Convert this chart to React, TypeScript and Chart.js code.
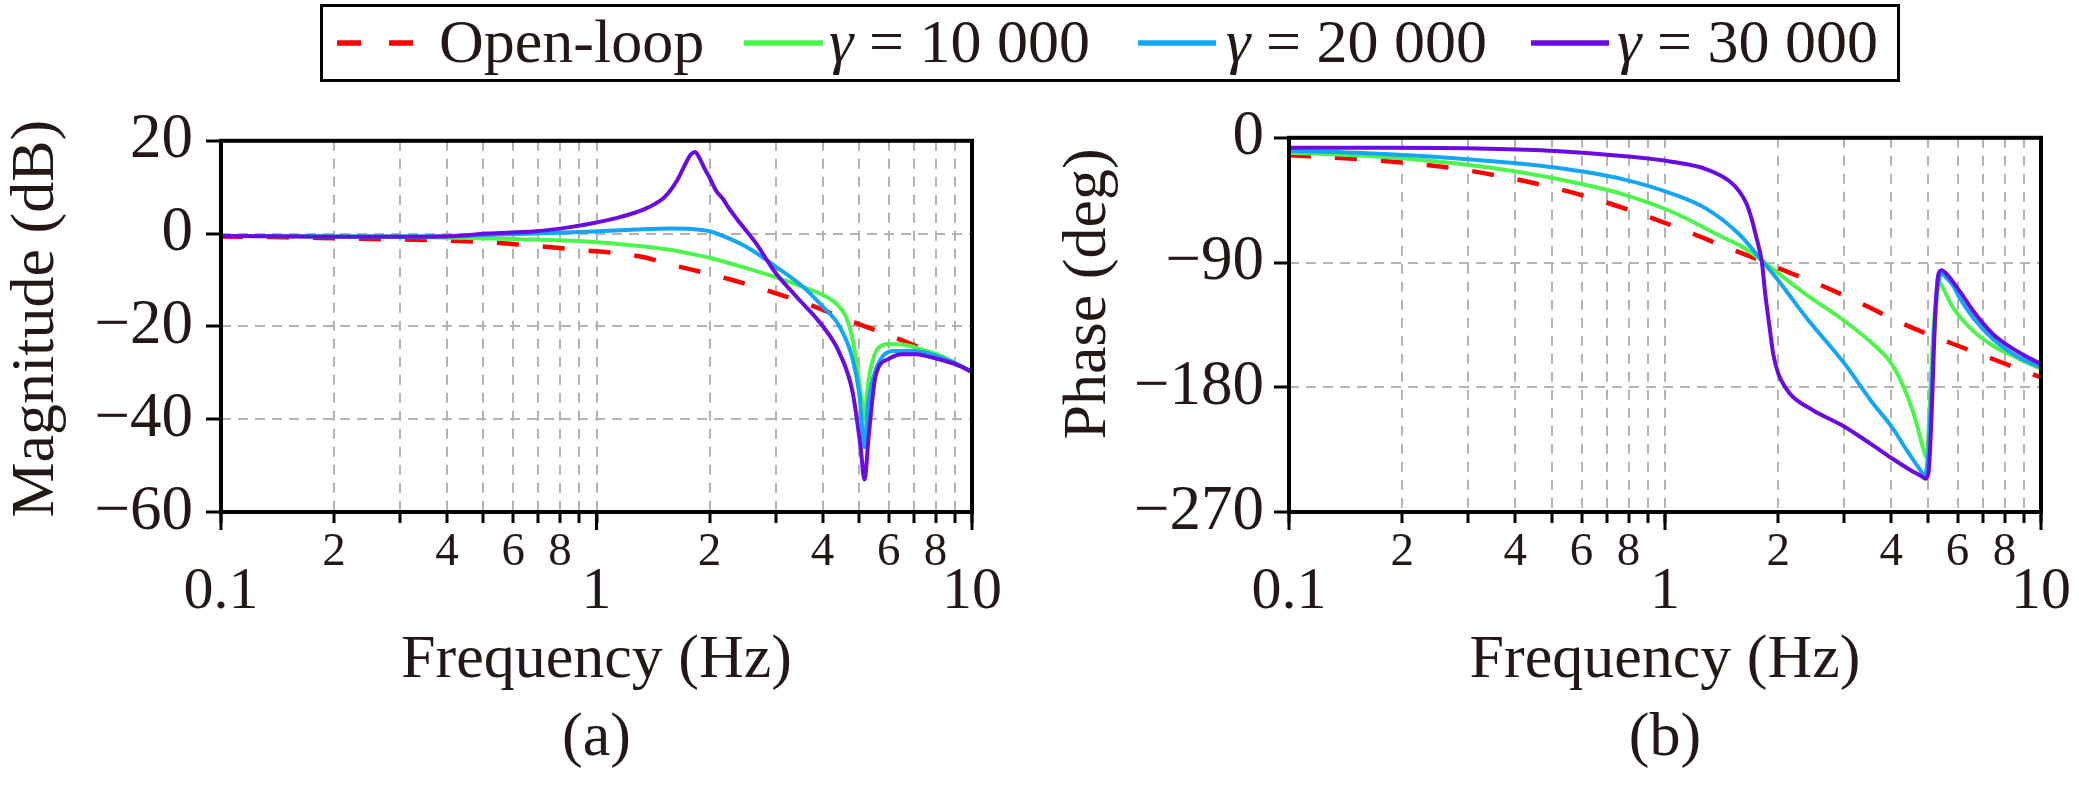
import React, { useEffect, useRef } from 'react'
import { Chart } from 'chart.js/auto'

const FONT = '"Liberation Serif", "Times New Roman", Times, serif'
const INK = '#231815'
const GRID = '#b3b3b3'

// x axis, Hz on a log scale
const X_TICKS = [0.1, 0.2, 0.3, 0.4, 0.5, 0.6, 0.7, 0.8, 0.9, 1, 2, 3, 4, 5, 6, 7, 8, 9, 10]
const X_MINOR_LABELS = ['', '2', '', '4', '', '6', '', '8', '', '', '2', '', '4', '', '6', '', '8', '', '']
const X_MAJOR_TICKS = [0.1, 1, 10]
const X_MAJOR_LABELS = ['0.1', '1', '10']
const MAG_TICKS = [-60, -40, -20, 0, 20]
const PHASE_TICKS = [-270, -180, -90, 0]

const SERIES_NAMES = ['Open-loop', 'γ = 10 000', 'γ = 20 000', 'γ = 30 000']
const SERIES_COLORS = ['#ff0000', '#4cf54c', '#14a6f2', '#6a0ce0']

// magnitude (dB)
const MAG_OPEN_F = [0.1, 0.147, 0.2, 0.27, 0.36, 0.5, 0.66, 0.87, 1.3, 1.6, 2.0, 2.3, 2.83, 3.54, 4.0, 4.61, 5.32, 6.14, 7.07, 8.34, 10]
const MAG_OPEN_DB = [-0.6, -0.8, -1.0, -1.2, -1.4, -1.8, -2.5, -3.4, -4.9, -6.8, -8.7, -10.0, -12.2, -14.8, -16.4, -18.5, -20.3, -22.2, -24.2, -26.7, -29.8]

const MAG_G10_F = [0.1, 0.2, 0.3, 0.42, 0.63, 0.94, 1.28, 1.57, 1.77, 2.0, 2.4, 3.0, 3.54, 4.0, 4.34, 4.61, 4.81, 4.95, 5.07, 5.17, 5.26, 5.36, 5.48, 5.6, 6.0, 6.66, 7.38, 8.34, 10]
const MAG_G10_DB = [-0.5, -0.6, -0.7, -0.9, -1.2, -1.7, -2.6, -3.5, -4.3, -5.2, -7.0, -9.4, -11.5, -13.2, -15.0, -17.8, -22.8, -29, -35, -40, -34, -29.5, -26.5, -24.9, -23.8, -24.0, -25.0, -26.5, -29.8]

const MAG_G20_F = [0.1, 0.2, 0.3, 0.42, 0.63, 0.94, 1.28, 1.57, 1.79, 2.0, 2.26, 2.55, 3.0, 3.54, 4.0, 4.43, 4.81, 5.02, 5.17, 5.28, 5.4, 5.72, 6.27, 7.07, 8.0, 9.0, 10]
const MAG_G20_DB = [-0.5, -0.6, -0.6, -0.5, -0.1, 0.4, 0.9, 1.1, 1.0, 0.5, -1.1, -3.2, -7.1, -11.4, -15.7, -19.9, -27, -35, -46, -37, -32.5, -27, -25.3, -25.3, -26.3, -27.9, -29.8]

const MAG_G30_F = [0.1, 0.2, 0.3, 0.42, 0.51, 0.69, 0.85, 1.0, 1.16, 1.37, 1.52, 1.64, 1.72, 1.78, 1.83, 1.88, 1.94, 2.0, 2.08, 2.17, 2.26, 2.4, 2.66, 3.0, 3.4, 4.0, 4.43, 4.81, 5.05, 5.17, 5.32, 5.54, 6.0, 6.53, 7.07, 8.0, 9.0, 10]
const MAG_G30_DB = [-0.5, -0.7, -0.7, -0.5, 0.0, 0.5, 1.4, 2.4, 3.6, 5.6, 7.9, 11.5, 14.8, 17.0, 17.6, 16.3, 14.0, 12.1, 9.3, 7.5, 5.3, 2.5, -2.1, -8.5, -13.5, -19.9, -25.6, -34.2, -46, -53, -42.7, -30.6, -27, -26, -26, -26.9, -28.1, -29.8]

// phase (deg)
const PH_OPEN_F = [0.1, 0.145, 0.192, 0.266, 0.354, 0.472, 0.63, 0.836, 1.11, 1.45, 1.81, 2.0, 2.53, 3.31, 4.35, 5.73, 7.59, 10]
const PH_OPEN_DEG = [-12.6, -15, -17.4, -21.5, -27, -34.1, -43, -53.7, -66.1, -78.8, -89, -94, -105, -119.3, -134.8, -147.9, -160.5, -172.9]

const PH_G10_F = [0.1, 0.15, 0.226, 0.34, 0.51, 0.77, 1.05, 1.42, 1.58, 1.81, 1.98, 2.38, 3.01, 3.58, 4.01, 4.39, 4.67, 4.87, 4.97, 5.02, 5.07, 5.12, 5.17, 5.25, 5.33, 5.38, 5.5, 5.85, 6.61, 7.47, 8.61, 10]
const PH_G10_DEG = [-10.7, -12.6, -16, -21.5, -29.4, -40.6, -53.7, -71.6, -77.6, -88.5, -96.7, -113.3, -132.4, -149, -163.3, -184.8, -206.2, -225.2, -231.2, -212, -187, -163, -140, -118, -106, -104.5, -109, -122.9, -139.5, -150.2, -158.6, -166.9]

const PH_G20_F = [0.1, 0.15, 0.226, 0.34, 0.51, 0.77, 1.05, 1.29, 1.57, 1.81, 1.98, 2.38, 3.01, 3.58, 4.01, 4.39, 4.77, 4.91, 4.97, 5.02, 5.07, 5.12, 5.17, 5.23, 5.3, 5.38, 5.44, 5.6, 5.85, 6.09, 6.61, 7.47, 8.61, 10]
const PH_G20_DEG = [-9.5, -10.7, -13.1, -16.7, -21.5, -29.8, -40.6, -51.3, -69.2, -88.5, -101.4, -130, -163.3, -191.9, -208.6, -225.2, -239.5, -243.5, -238, -225, -205, -180, -155, -130, -110, -100, -98, -101, -107, -116, -130, -145.5, -157.4, -165.7]

const PH_G30_F = [0.1, 0.184, 0.34, 0.51, 0.77, 1.05, 1.29, 1.48, 1.58, 1.65, 1.71, 1.75, 1.78, 1.81, 1.85, 1.9, 1.94, 2.0, 2.1, 2.19, 2.48, 3.01, 3.51, 4.01, 4.48, 4.82, 4.93, 5.02, 5.07, 5.12, 5.17, 5.23, 5.33, 5.44, 5.6, 6.09, 6.61, 7.47, 8.61, 10]
const PH_G30_DEG = [-7.2, -7.2, -7.9, -9.5, -13.1, -17.4, -22.7, -31, -39, -48, -61, -72, -80, -90, -114, -138, -156, -170, -181, -187, -196.7, -208.6, -220.5, -231.2, -239.5, -244.3, -246, -242, -225, -199, -165, -128, -99, -95.5, -98, -111, -125.2, -141.9, -153.8, -163.3]

type Curve = { f: number[]; v: number[] }

const MAG_CURVES: Curve[] = [
  { f: MAG_OPEN_F, v: MAG_OPEN_DB },
  { f: MAG_G10_F, v: MAG_G10_DB },
  { f: MAG_G20_F, v: MAG_G20_DB },
  { f: MAG_G30_F, v: MAG_G30_DB },
]
const PHASE_CURVES: Curve[] = [
  { f: PH_OPEN_F, v: PH_OPEN_DEG },
  { f: PH_G10_F, v: PH_G10_DEG },
  { f: PH_G20_F, v: PH_G20_DEG },
  { f: PH_G30_F, v: PH_G30_DEG },
]

const fmtTick = (v: number) => (v < 0 ? '\u2212' + Math.abs(v) : String(v))

// minor labels sit just under the axis, decade labels a row lower
const MINOR_FONT = { family: FONT, size: 47, lineHeight: 1.2 }
const MAJOR_FONT = { family: FONT, size: 60, lineHeight: 136 / 60 }

// black frame round the plot area + longer ticks at the decades
const framePlugin = {
  id: 'frame',
  afterDatasetsDraw(chart: any) {
    const { ctx, chartArea: a } = chart
    const xs = chart.scales.x
    ctx.save()
    ctx.strokeStyle = '#000'
    ctx.lineWidth = 4
    ctx.strokeRect(a.left, a.top, a.right - a.left, a.bottom - a.top)
    ctx.lineWidth = 3
    ctx.beginPath()
    for (const v of X_MAJOR_TICKS) {
      const x = xs.getPixelForValue(v)
      ctx.moveTo(x, a.bottom)
      ctx.lineTo(x, a.bottom + 18)
    }
    ctx.stroke()
    ctx.restore()
  },
}

type PanelProps = {
  curves: Curve[]
  yTicks: number[]
  yTitle: string
  caption: string
  width: number
  height: number
  padTop: number
  padRight: number
  yAxisWidth: number
  yTickPad: number
  yTitlePad: number
}

const BodePanel: React.FC<PanelProps> = (p) => {
  const ref = useRef<HTMLCanvasElement | null>(null)

  useEffect(() => {
    if (!ref.current) return
    const datasets = p.curves.map((c, i) => ({
      label: SERIES_NAMES[i],
      data: c.f.map((f, k) => ({ x: f, y: c.v[k] })),
      borderColor: SERIES_COLORS[i],
      backgroundColor: SERIES_COLORS[i],
      borderWidth: i === 0 ? 4.5 : 4,
      borderDash: i === 0 ? [22, 24] : [],
      pointRadius: 0,
      fill: false,
      cubicInterpolationMode: 'monotone',
      order: 3 - i,
    }))
    const chart = new Chart(ref.current, {
      type: 'line',
      data: { datasets } as any,
      options: {
        responsive: false,
        maintainAspectRatio: false,
        animation: false,
        events: [],
        layout: { padding: { left: 0, top: p.padTop, right: p.padRight, bottom: 0 } },
        plugins: { legend: { display: false }, tooltip: { enabled: false } },
        scales: {
          x: {
            type: 'logarithmic',
            position: 'bottom',
            min: 0.1,
            max: 10,
            afterBuildTicks: (s: any) => {
              s.ticks = X_TICKS.map((v) => ({ value: v }))
            },
            afterFit: (s: any) => {
              s.height = 275
            },
            grid: { color: GRID, lineWidth: 2, tickLength: 11, tickColor: '#000', tickWidth: 3 },
            border: { display: false, dash: [10, 8] },
            ticks: {
              autoSkip: false,
              maxRotation: 0,
              padding: 1,
              color: INK,
              font: (ctx: any) => (X_MAJOR_TICKS.includes(ctx.tick?.value) ? MAJOR_FONT : MINOR_FONT),
              callback: (v: any, i: number) => {
                const m = X_MAJOR_TICKS.indexOf(Number(v))
                return m >= 0 ? X_MAJOR_LABELS[m] : X_MINOR_LABELS[i]
              },
            },
            title: {
              display: true,
              text: ['Frequency (Hz)', p.caption],
              color: INK,
              font: { family: FONT, size: 62, lineHeight: 78 / 62 },
              padding: { top: 0, bottom: 9 },
            },
          },
          y: {
            type: 'linear',
            position: 'left',
            min: p.yTicks[0],
            max: p.yTicks[p.yTicks.length - 1],
            afterBuildTicks: (s: any) => {
              s.ticks = p.yTicks.map((v) => ({ value: v }))
            },
            afterFit: (s: any) => {
              s.width = p.yAxisWidth
            },
            grid: { color: GRID, lineWidth: 2, tickLength: 15, tickColor: '#000', tickWidth: 3 },
            border: { display: false, dash: [10, 7] },
            ticks: {
              padding: p.yTickPad,
              color: INK,
              font: { family: FONT, size: 63 },
              callback: (v: any) => fmtTick(Number(v)),
            },
            title: {
              display: true,
              text: p.yTitle,
              color: INK,
              font: { family: FONT, size: 62, lineHeight: 1.2 },
              padding: { top: p.yTitlePad, bottom: 0 },
            },
          },
        },
      } as any,
      plugins: [framePlugin],
    })
    return () => chart.destroy()
  }, [p])

  return <canvas ref={ref} width={p.width} height={p.height} style={{ display: 'block', width: p.width, height: p.height }} />
}

const SAMPLE_X = [14, 421, 815, 1208]
const SAMPLE_W = [77, 79, 78, 78]
const TEXT_X = [116, 506, 903, 1294]

const Legend: React.FC = () => (
  <div
    style={{
      position: 'absolute',
      left: 320,
      top: 4,
      width: 1580,
      height: 78,
      boxSizing: 'border-box',
      border: '3px solid #000',
      background: '#fff',
      fontFamily: FONT,
      fontSize: 62,
      lineHeight: '62px',
      color: INK,
      whiteSpace: 'nowrap',
    }}
  >
    {SERIES_NAMES.map((name, i) => (
      <React.Fragment key={name}>
        <svg
          width={SAMPLE_W[i]}
          height={10}
          style={{ position: 'absolute', left: SAMPLE_X[i], top: 31 }}
        >
          <line
            x1={0}
            y1={5}
            x2={SAMPLE_W[i]}
            y2={5}
            stroke={SERIES_COLORS[i]}
            strokeWidth={5.5}
            strokeDasharray={i === 0 ? '24 28' : undefined}
          />
        </svg>
        <span style={{ position: 'absolute', left: TEXT_X[i], top: 3 }}>
          {name.startsWith('γ') ? (
            <>
              <i>γ</i>
              {name.slice(1)}
            </>
          ) : (
            name
          )}
        </span>
      </React.Fragment>
    ))}
  </div>
)

const MAG_PANEL: PanelProps = {
  curves: MAG_CURVES,
  yTicks: MAG_TICKS,
  yTitle: ' Magnitude (dB)',
  caption: '(a)',
  width: 1040,
  height: 697,
  padTop: 46,
  padRight: 68,
  yAxisWidth: 221,
  yTickPad: 13,
  yTitlePad: 0,
}

const PHASE_PANEL: PanelProps = {
  curves: PHASE_CURVES,
  yTicks: PHASE_TICKS,
  yTitle: '\u2003Phase (deg)',
  caption: '(b)',
  width: 1039,
  height: 697,
  padTop: 45,
  padRight: 38,
  yAxisWidth: 249,
  yTickPad: 10,
  yTitlePad: 12,
}

export default function App() {
  return (
    <div style={{ position: 'absolute', left: 0, top: 0, width: 2079, height: 787, background: '#fff', overflow: 'hidden' }}>
      <div style={{ position: 'absolute', left: 0, top: 90 }}>
        <BodePanel {...MAG_PANEL} />
      </div>
      <div style={{ position: 'absolute', left: 1040, top: 90 }}>
        <BodePanel {...PHASE_PANEL} />
      </div>
      <Legend />
    </div>
  )
}
